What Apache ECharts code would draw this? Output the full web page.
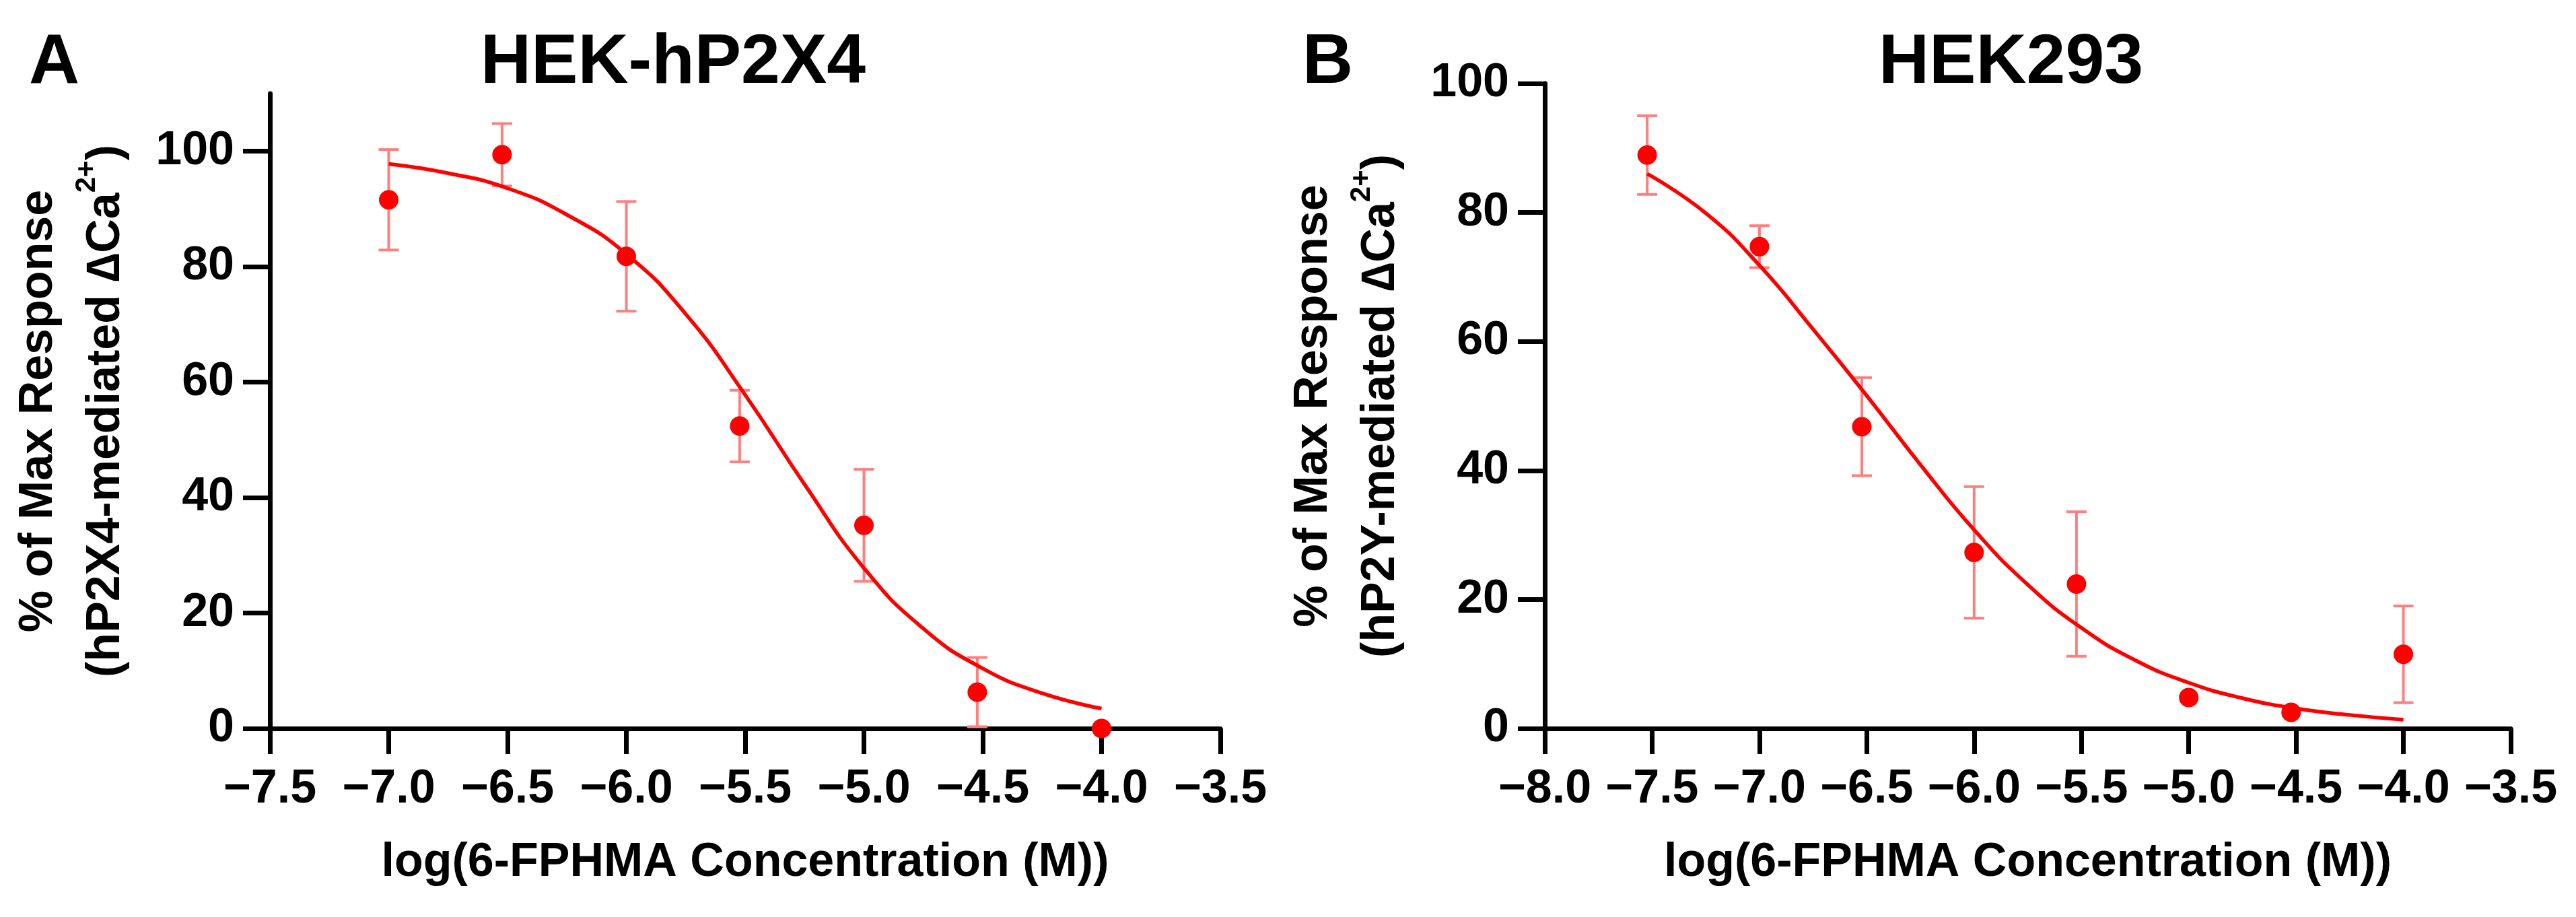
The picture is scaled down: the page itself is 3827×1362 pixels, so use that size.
<!DOCTYPE html>
<html>
<head>
<meta charset="utf-8">
<script src="https://cdn.jsdelivr.net/npm/echarts@6.0.0/dist/echarts.min.js"></script>
<style>
html, body { margin: 0; padding: 0; background: #fff; }
#main { width: 3827px; height: 1362px; }
</style>
</head>
<body>
<div id="main"></div>
<script>
// panel A : HEK-hP2X4
var doseA = [-7.0, -6.523, -6.0, -5.523, -5.0, -4.523, -4.0];
var meanA = [91.6, 99.4, 81.8, 52.4, 35.2, 6.3, 0];
var semA = [8.7, 5.4, 9.5, 6.2, 9.7, 6.0, 0];
var fitXA = [-7.0, -6.75, -6.5, -6.25, -6.0, -5.75, -5.5, -5.25, -5.0, -4.75, -4.5, -4.25, -4.0];
var fitYA = [97.8, 96.2, 93.6, 89.0, 82.2, 71.8, 57.8, 42.3, 27.8, 17.3, 10.4, 6.1, 3.45];

// panel B : HEK293
var doseB = [-7.523, -7.0, -6.523, -6.0, -5.523, -5.0, -4.523, -4.0];
var meanB = [88.9, 74.7, 46.8, 27.3, 22.4, 4.8, 2.5, 11.5];
var semB = [6.1, 3.25, 7.6, 10.2, 11.2, 0, 0, 7.5];
var fitXB = [-7.523, -7.25, -7.0, -6.75, -6.5, -6.25, -6.0, -5.75, -5.5, -5.25, -5.0, -4.75, -4.5, -4.25, -4.0];
var fitYB = [86.0, 79.9, 71.8, 61.9, 51.6, 40.9, 30.8, 22.3, 15.6, 10.6, 7.1, 4.7, 3.1, 2.1, 1.35];

var yTicks = [0, 20, 40, 60, 80, 100];

var F = "'Liberation Sans', Arial, sans-serif";
var RED = '#ff0000';
var ERR = '#ff7f7f';

function pairs(xs, ys) {
	var out = [];
	for (var i = 0; i < xs.length; i++) {
		out.push([xs[i], ys[i]]);
	}
	return out;
}

function bars(xs, ms, es) {
	var out = [];
	for (var i = 0; i < xs.length; i++) {
		if (es[i] > 0) out.push([xs[i], ms[i] - es[i], ms[i] + es[i]]);
	}
	return out;
}

function drawBar(params, api) {
	var hi = api.coord([api.value(0), api.value(2)]);
	var lo = api.coord([api.value(0), api.value(1)]);
	var hw = 15;
	var st = { stroke: ERR, lineWidth: 4 };
	return {
		type: 'group',
		children: [
			{ type: 'line', shape: { x1: hi[0], y1: hi[1], x2: lo[0], y2: lo[1] }, style: st },
			{ type: 'line', shape: { x1: hi[0] - hw, y1: hi[1], x2: hi[0] + hw, y2: hi[1] }, style: st },
			{ type: 'line', shape: { x1: lo[0] - hw, y1: lo[1], x2: lo[0] + hw, y2: lo[1] }, style: st }
		]
	};
}

function minusFmt(v) {
	return (v < 0 ? '\u2212' : '') + Math.abs(v).toFixed(1);
}

function xAxisOf(grid, min) {
	return {
		type: 'value',
		gridIndex: grid,
		min: min,
		max: -3.5,
		interval: 0.5,
		splitLine: { show: false },
		axisLine: { onZero: false, lineStyle: { color: '#000', width: 7 } },
		axisTick: { length: 38, lineStyle: { color: '#000', width: 7 } },
		axisLabel: { margin: 56, fontSize: 70, fontWeight: 'bold', fontFamily: F, color: '#000', formatter: minusFmt },
		name: 'log(6-FPHMA Concentration (M))',
		nameLocation: 'middle',
		nameGap: 165,
		nameTextStyle: { fontSize: 70, fontWeight: 'bold', fontFamily: F, color: '#000' }
	};
}

function yAxisOf(grid, max, line2) {
	return {
		type: 'value',
		gridIndex: grid,
		min: 0,
		max: max,
		splitLine: { show: false },
		axisLine: { onZero: false, lineStyle: { color: '#000', width: 7 } },
		axisTick: { length: 40, customValues: yTicks, lineStyle: { color: '#000', width: 7 } },
		axisLabel: { margin: 53, customValues: yTicks, fontSize: 70, fontWeight: 'bold', fontFamily: F, color: '#000' },
		name: '% of Max Response\n' + line2,
		nameLocation: 'middle',
		nameRotate: 90,
		nameGap: 193,
		nameTextStyle: {
			fontSize: 70, fontWeight: 'bold', fontFamily: F, color: '#000', lineHeight: 100, align: 'center',
			rich: {
				sup: { fontSize: 42, fontWeight: 'bold', fontFamily: F, color: '#000', verticalAlign: 'top', lineHeight: 38 }
			}
		}
	};
}

var titleStyle = { fontSize: 104, fontWeight: 'bold', fontFamily: F, color: '#000' };

var chart = echarts.init(document.getElementById('main'));
chart.setOption({
	animation: false,
	backgroundColor: '#fff',
	title: [
		{ text: 'A', left: 43, top: 42, padding: 0, textStyle: titleStyle },
		{ text: 'HEK-hP2X4', left: 714, top: 42, padding: 0, textStyle: titleStyle },
		{ text: 'B', left: 1935, top: 42, padding: 0, textStyle: titleStyle },
		{ text: 'HEK293', left: 2791, top: 42, padding: 0, textStyle: titleStyle }
	],
	grid: [
		{ left: 401, top: 139, width: 1412, height: 943 },
		{ left: 2295, top: 124, width: 1435, height: 958 }
	],
	xAxis: [xAxisOf(0, -7.5), xAxisOf(1, -8.0)],
	yAxis: [
		yAxisOf(0, 110, '(hP2X4-mediated \u2206Ca{sup|2+})'),
		yAxisOf(1, 100, '(hP2Y-mediated \u2206Ca{sup|2+})')
	],
	series: [
		{ type: 'custom', xAxisIndex: 0, yAxisIndex: 0, z: 1, renderItem: drawBar, encode: { x: 0, y: [1, 2] }, data: bars(doseA, meanA, semA) },
		{ type: 'line', xAxisIndex: 0, yAxisIndex: 0, z: 2, smooth: 0.5, showSymbol: false, lineStyle: { color: RED, width: 5.5 }, data: pairs(fitXA, fitYA) },
		{ type: 'scatter', xAxisIndex: 0, yAxisIndex: 0, z: 3, symbolSize: 29, itemStyle: { color: RED, opacity: 1 }, data: pairs(doseA, meanA) },
		{ type: 'custom', xAxisIndex: 1, yAxisIndex: 1, z: 1, renderItem: drawBar, encode: { x: 0, y: [1, 2] }, data: bars(doseB, meanB, semB) },
		{ type: 'line', xAxisIndex: 1, yAxisIndex: 1, z: 2, smooth: 0.5, showSymbol: false, lineStyle: { color: RED, width: 5.5 }, data: pairs(fitXB, fitYB) },
		{ type: 'scatter', xAxisIndex: 1, yAxisIndex: 1, z: 3, symbolSize: 29, itemStyle: { color: RED, opacity: 1 }, data: pairs(doseB, meanB) }
	]
});
</script>
</body>
</html>
